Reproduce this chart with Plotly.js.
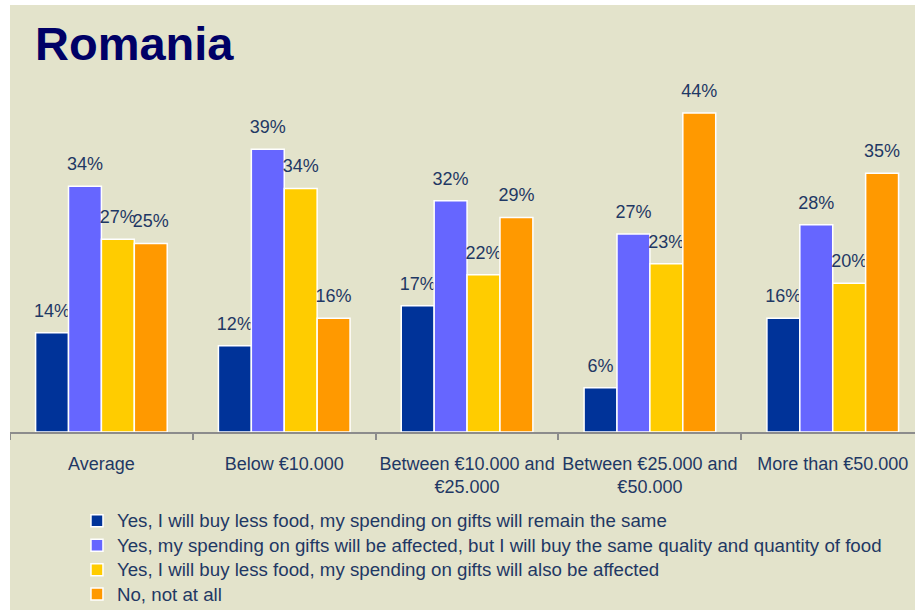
<!DOCTYPE html>
<html>
<head>
<meta charset="utf-8">
<script src="https://cdn.plot.ly/plotly-3.0.1.min.js"></script>
<style>
  html, body { margin: 0; padding: 0; background: #ffffff; }
  #chart { position: absolute; left: 10px; top: 5px; width: 905px; height: 605px; }
</style>
</head>
<body>
<div id="chart"></div>
<script>
const categories = [
  "Average",
  "Below €10.000",
  "Between €10.000 and<br>€25.000",
  "Between €25.000 and<br>€50.000",
  "More than €50.000"
];
const seriesNames = [
  "Yes, I will buy less food, my spending on gifts will remain the same",
  "Yes, my spending on gifts will be affected, but I will buy the same quality and quantity of food",
  "Yes, I will buy less food, my spending on gifts will also be affected",
  "No, not at all"
];
// bar heights (%)
const buyLessFoodGiftsSame = [13.7, 11.9, 17.4, 6.1, 15.7];
const giftsAffectedFoodSame = [33.9, 39.0, 31.9, 27.3, 28.6];
const buyLessFoodGiftsAffected = [26.6, 33.6, 21.7, 23.2, 20.5];
const notAtAll = [26.0, 15.7, 29.6, 44.0, 35.7];
// data labels as printed on the picture
const labelsBuyLessFoodGiftsSame = ["14%", "12%", "17%", "6%", "16%"];
const labelsGiftsAffectedFoodSame = ["34%", "39%", "32%", "27%", "28%"];
const labelsBuyLessFoodGiftsAffected = ["27%", "34%", "22%", "23%", "20%"];
const labelsNotAtAll = ["25%", "16%", "29%", "44%", "35%"];

const seriesValues = [buyLessFoodGiftsSame, giftsAffectedFoodSame, buyLessFoodGiftsAffected, notAtAll];
const seriesLabels = [labelsBuyLessFoodGiftsSame, labelsGiftsAffectedFoodSame, labelsBuyLessFoodGiftsAffected, labelsNotAtAll];
const colors = ["#003399", "#6666FF", "#FFCC00", "#FF9900"];
const FONT = "Liberation Sans, Arial, Helvetica, sans-serif";
const TXT = "#1F3864";
const pad = '<span style="font-size:60px">&nbsp;</span>';

const traces = seriesValues.map((vals, i) => ({
  type: "bar",
  name: '<span style="font-size:18.7px">' + seriesNames[i] + '</span>',
  x: categories,
  y: vals,
  marker: { color: colors[i], line: { color: "#ffffff", width: 1.5 } },
  text: seriesLabels[i],
  texttemplate: pad + "%{text}" + pad,
  textposition: "outside",
  constraintext: "none",
  cliponaxis: false,
  textfont: { family: FONT, size: 18, color: TXT },
  hoverinfo: "none"
}));

const layout = {
  width: 905,
  height: 605,
  paper_bgcolor: "#E3E3CB",
  plot_bgcolor: "#E3E3CB",
  margin: { l: 0, r: 0, t: 75, b: 178 },
  font: { family: FONT, size: 18, color: TXT },
  title: {
    text: "<b>Romania</b>",
    font: { family: FONT, size: 47, color: "#000066" },
    xref: "container", x: 25 / 905, xanchor: "left",
    yref: "container", y: 0.937, yanchor: "middle"
  },
  barmode: "group",
  bargap: 0.28,
  bargroupgap: 0,
  xaxis: {
    type: "category",
    range: [-0.5, 4.45],
    automargin: false,
    tickangle: 0,
    showline: true,
    linecolor: "#8c8c8c",
    linewidth: 2,
    ticks: "outside",
    tickson: "boundaries",
    ticklen: 6,
    tickwidth: 2,
    tickcolor: "#8c8c8c",
    showgrid: false,
    zeroline: false,
    tickfont: { family: FONT, size: 18, color: TXT },
    ticklabelstandoff: 14,
    fixedrange: true
  },
  yaxis: {
    range: [0, 48.55],
    visible: false,
    automargin: false,
    fixedrange: true
  },
  showlegend: true,
  legend: {
    orientation: "v",
    xref: "paper", x: 0.074, xanchor: "left",
    yref: "container", y: 0.176, yanchor: "top",
    font: { family: FONT, size: 16.5, color: TXT },
    bgcolor: "rgba(0,0,0,0)",
    traceorder: "normal"
  }
};

Plotly.newPlot("chart", traces, layout, { displayModeBar: false, staticPlot: true });
</script>
</body>
</html>
